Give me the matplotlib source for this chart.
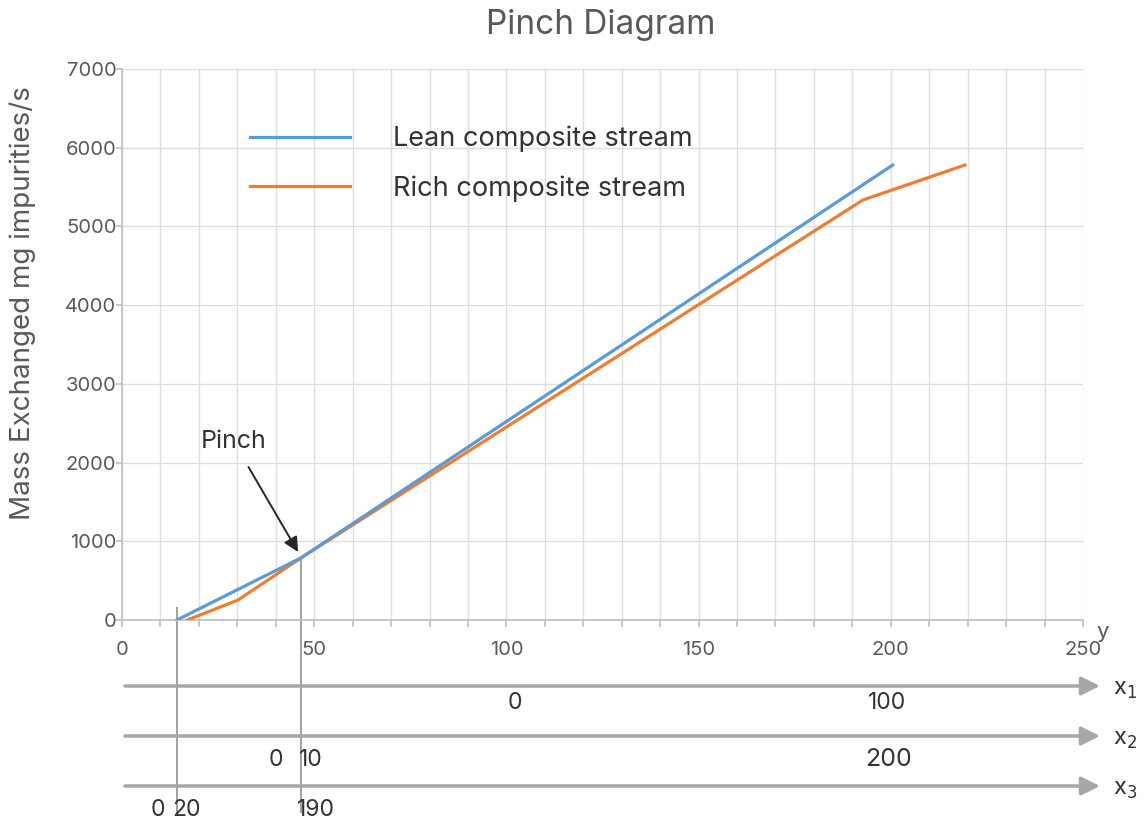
import matplotlib
matplotlib.use("Agg")
import matplotlib.pyplot as plt
import matplotlib.transforms as mtransforms
from matplotlib.ticker import MultipleLocator

plt.rcParams['font.family'] = ['Inter', 'DejaVu Sans']

# ---- data ----
lean_x = [14.3, 46.6, 200.5]
lean_y = [0, 790, 5780]
rich_x = [17.0, 30.2, 46.6, 192.8, 219.3]
rich_y = [0, 254, 790, 5337, 5780]

lean_label = "Lean composite stream"
rich_label = "Rich composite stream"

pinch_x = 46.6
pinch_y = 790
start_x = 14.3
start_y = 152

x_ticks = [0, 50, 100, 150, 200, 250]
y_ticks = [0, 1000, 2000, 3000, 4000, 5000, 6000, 7000]

# secondary concentration scales (x position in y-units, text)
x1_labels = [(102.2, "0"), (199.0, "100")]
x2_labels = [(40.0, "0"), (49.2, "10"), (199.3, "200")]
x3_labels = [(9.4, "0"), (16.8, "20"), (50.5, "190")]
scale_names = ["x$_1$", "x$_2$", "x$_3$"]

BLUE = '#5B9BD5'
ORANGE = '#ED7D31'
GRAY_TXT = '#595959'
DARK = '#333333'

fig = plt.figure(figsize=(11.47, 8.25), dpi=100)
ax = fig.add_axes([122/1147, 1-620/825, (1083-122)/1147, (620-69)/825])

ax.plot(lean_x, lean_y, color=BLUE, lw=2.3, label=lean_label, zorder=4)
ax.plot(rich_x, rich_y, color=ORANGE, lw=2.3, label=rich_label, zorder=3)

ax.set_xlim(0, 250)
ax.set_ylim(0, 7000)
ax.set_xticks(x_ticks)
ax.set_yticks(y_ticks)
ax.xaxis.set_minor_locator(MultipleLocator(10))
ax.grid(True, which='both', color='#dedede', lw=1.0, zorder=0)
ax.set_axisbelow(True)
for s in ['top', 'right']:
    ax.spines[s].set_visible(False)
for s in ['left', 'bottom']:
    ax.spines[s].set_color('#bfbfbf')
    ax.spines[s].set_linewidth(1.2)
ax.tick_params(axis='both', which='both', color='#bfbfbf', length=5, width=1.2,
               labelcolor=GRAY_TXT, labelsize=14.5)
ax.tick_params(axis='x', which='major', pad=10)
ax.tick_params(axis='y', which='major', length=4, pad=0)

# legend
leg = ax.legend(loc='upper left', bbox_to_anchor=(0.133, 0.897), frameon=False,
                fontsize=19.5, handlelength=3.7, handletextpad=1.6, labelspacing=0.84,
                borderpad=0, borderaxespad=0)
for t in leg.get_texts():
    t.set_color(DARK)

# pinch annotation
ax.annotate("Pinch", xy=(45.8, 864), xytext=(29.1, 2262), ha='center', va='center',
            fontsize=18, color=DARK,
            arrowprops=dict(arrowstyle='-|>', color='#262626', lw=1.4,
                            mutation_scale=22, shrinkA=9, shrinkB=0))

# vertical guide lines
ax.plot([start_x, start_x], [start_y, -2436], color='#a0a0a0', lw=1.4, clip_on=False, zorder=2)
ax.plot([pinch_x, pinch_x], [pinch_y, -2436], color='#a0a0a0', lw=1.4, clip_on=False, zorder=2)

# secondary scales
trans = mtransforms.blended_transform_factory(ax.transData, ax.transAxes)
arrow_y = [-0.1198, -0.2105, -0.3013]
label_y = [-0.151, -0.254, -0.345]
name_y = [-0.127, -0.218, -0.309]
for ay in arrow_y:
    ax.annotate('', xy=(254.4, ay), xytext=(0.8, ay), xycoords=trans, textcoords=trans,
                arrowprops=dict(arrowstyle='-|>', color='#a6a6a6', lw=2.5,
                                mutation_scale=28, shrinkA=0, shrinkB=0),
                annotation_clip=False)
for labels, ly in zip([x1_labels, x2_labels, x3_labels], label_y):
    for xv, txt in labels:
        size = 18 if txt == "200" else 16.5
        ax.text(xv, ly, txt, transform=trans, ha='center', va='center',
                fontsize=size, color=DARK, clip_on=False)
for ny, nm in zip(name_y, scale_names):
    ax.text(261, ny, nm, transform=trans, ha='center', va='center', fontsize=17,
            color=DARK, clip_on=False)
ax.text(255.2, -0.022, "y", transform=trans, ha='center', va='center', fontsize=16,
        color=GRAY_TXT, clip_on=False)

fig.text(601/1147, 1-25/825, "Pinch Diagram", ha='center', va='center', fontsize=24,
         color=GRAY_TXT)
fig.text(23/1147, 1-303/825, "Mass Exchanged mg impurities/s", ha='center', va='center',
         rotation=90, fontsize=20, color=GRAY_TXT)

fig.savefig("out.png", dpi=100)
